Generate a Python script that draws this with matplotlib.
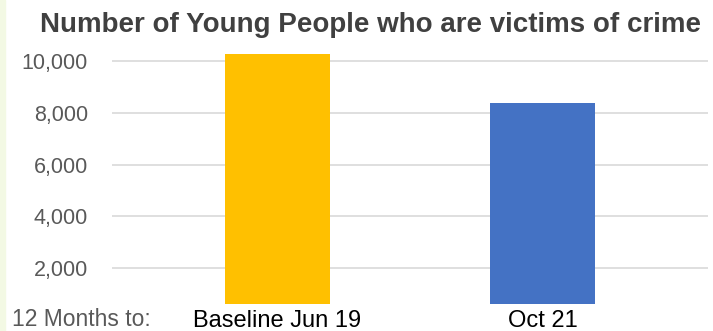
import matplotlib
matplotlib.use("Agg")
import matplotlib.pyplot as plt
from matplotlib.ticker import FuncFormatter

plt.rcParams['font.family'] = ['Liberation Sans', 'DejaVu Sans']

# data
categories = ["Baseline Jun 19", "Oct 21"]
victims = [10300, 8390]
bar_colors = ["#FFC000", "#4472C4"]
y_ticks = [2000, 4000, 6000, 8000, 10000]

fig = plt.figure(figsize=(7.13, 3.31), dpi=100)
fig.patch.set_facecolor("white")

# pale strip down the left edge
fig.patches.append(plt.Rectangle((0, 0), 5 / 713, 1, transform=fig.transFigure,
                                 color="#F3F9E4", zorder=0))

ax = fig.add_axes([111.7 / 713, (331 - 304.3) / 331, 596.3 / 713, 253.3 / 331])
x = range(len(categories))
ax.bar(x, victims, width=0.396, color=bar_colors, zorder=2)

ax.set_xlim(-0.626, 1.625)
ax.set_ylim(600, 10400)
ax.set_yticks(y_ticks)
ax.yaxis.set_major_formatter(FuncFormatter(lambda v, p: f"{int(v):,}"))
ax.grid(axis="y", color="#D9D9D9", linewidth=1.2, zorder=0)
ax.set_axisbelow(True)

ax.set_xticks(list(x))
ax.set_xticklabels(categories, fontsize=17, color="black")
ax.tick_params(axis="x", length=0, pad=4)
ax.tick_params(axis="y", length=0, pad=17, labelsize=15.5, labelcolor="#595959")
for s in ax.spines.values():
    s.set_visible(False)

fig.text(12 / 713, 1 - 320 / 331, "12 Months to:", fontsize=16.5, color="#595959",
         ha="left", va="center")
fig.text(371 / 713, 1 - 25 / 331, "Number of Young People who are victims of crime",
         fontsize=20, fontweight="bold", color="#404040", ha="center", va="center")

fig.savefig("out.png", dpi=100)
